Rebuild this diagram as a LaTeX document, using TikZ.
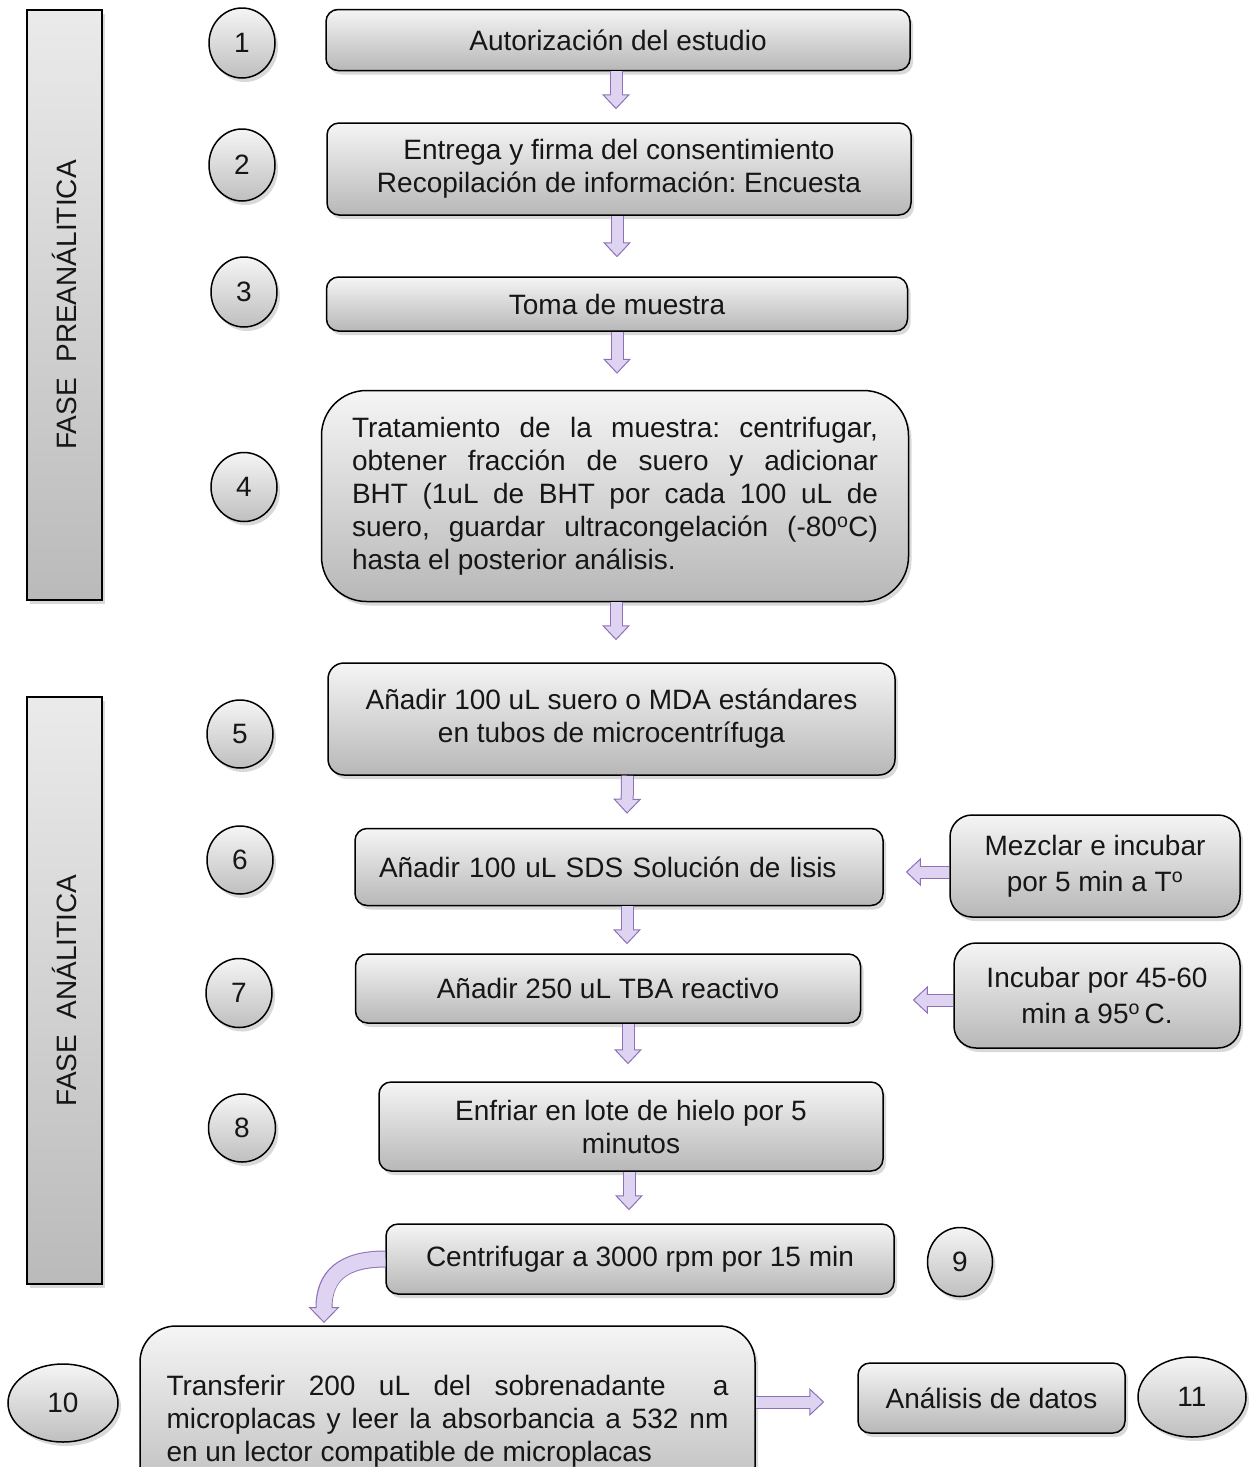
\documentclass[tikz,border=0pt]{standalone}
\usepackage{fontspec}
\setmainfont{Liberation Sans}
\usetikzlibrary{arrows.meta, shapes.geometric, shadows, positioning}

\definecolor{lavfill}{RGB}{222,211,241}
\definecolor{lavedge}{RGB}{140,112,184}
\definecolor{txtgray}{RGB}{22,22,22}
\tolerance=10000 \hbadness=10000 \hyphenpenalty=10000
\frenchspacing

\tikzset{
  sombra/.style={drop shadow={shadow xshift=3pt, shadow yshift=-4pt, opacity=0.3}},
  caja/.style={draw=black, line width=1.5pt, rounded corners=12pt, top color=black!4, bottom color=black!28,
    sombra, font=\fontsize{28}{33}\selectfont, align=center, inner sep=0pt, text=txtgray},
  paso/.style={ellipse, draw=black, line width=1.5pt, top color=black!4, bottom color=black!25,
    sombra, minimum width=66pt, minimum height=69pt, inner sep=0pt, font=\fontsize{28}{33}\selectfont, text=txtgray},
  fase/.style={draw=black, line width=1.5pt, top color=black!8, bottom color=black!27, sombra,
    minimum width=75pt, inner sep=0pt},
  fasetxt/.style={rotate=90, font=\fontsize{28}{33}\selectfont, text=txtgray},
  fatarrow/.style={draw=lavedge, line width=13pt,
    -{Triangle[width=28pt,length=15pt,line width=1pt,fill=lavfill,color=lavedge]},
    postaction={draw=lavfill, line width=11pt, -, shorten >=13pt}},
  bentarrow/.style={draw=lavedge, line width=17pt,
    -{Triangle[width=31pt,length=16pt,line width=1pt,fill=lavfill,color=lavedge]},
    postaction={draw=lavfill, line width=15pt, -, shorten >=14pt}}
}

\begin{document}
\begin{tikzpicture}[x=1pt, y=-1pt]
    \useasboundingbox (0,0) rectangle (1256,1467);

    % Fases
    \node[fase, minimum height=590pt] (pre) at (64.5,305) {};
    \node[fasetxt] (pretxt) at (pre) {FASE~~PREANÁLITICA};
    \node[fase, minimum height=587pt] (ana) at (64.5,990.5) {};
    \node[fasetxt] (anatxt) at (ana) {FASE~~ANÁLITICA};

    % Pasos del flujo
    \node[caja, minimum width=584pt, minimum height=61pt] (b1) at (618,40) {Autorización del estudio};
    \node[caja, minimum width=584pt, minimum height=92pt] (b2) at (619,169)
        {Entrega y firma del consentimiento\\Recopilación de información: Encuesta};
    \node[caja, minimum width=581pt, minimum height=54pt] (b3) at (617,304) {Toma de muestra};
    \node[caja, minimum width=587pt, minimum height=211pt, rounded corners=45pt,
          text width=526pt, align=justify] (b4) at (615,496)
        {Tratamiento de la muestra: centrifugar,\linebreak
         obtener fracción de suero y adicionar\linebreak
         BHT (1uL de BHT por cada 100 uL de\linebreak
         suero, guardar ultracongelación (-80\textsuperscript{o}C)\linebreak
         hasta el posterior análisis.};
    \node[caja, minimum width=567pt, minimum height=112pt, rounded corners=16pt] (b5) at (611.5,719)
        {Añadir 100 uL suero o MDA estándares\\en tubos de microcentrífuga};
    \node[caja, minimum width=528pt, minimum height=77pt, text width=480pt, align=left] (b6) at (619,867)
        {Añadir 100 uL SDS Solución de lisis};
    \node[caja, minimum width=505pt, minimum height=69pt] (b7) at (608,988.5) {Añadir 250 uL TBA reactivo};
    \node[caja, minimum width=504pt, minimum height=89pt] (b8) at (631,1126.5)
        {Enfriar en lote de hielo por 5\\minutos};
    \node[caja, minimum width=508pt, minimum height=70pt] (b9) at (640,1259)
        {Centrifugar a 3000 rpm por 15 min};
    \node[caja, minimum width=615pt, minimum height=190pt, rounded corners=36pt,
          text width=562pt, align=justify] (b10) at (447.5,1421)
        {Transferir 200 uL del sobrenadante\ \ a\linebreak
         microplacas y leer la absorbancia a 532 nm\linebreak
         en un lector compatible de microplacas};
    \node[caja, minimum width=267pt, minimum height=70pt] (b11) at (991.5,1398) {Análisis de datos};

    % Cajas laterales
    \node[caja, minimum width=290pt, minimum height=102pt, rounded corners=22pt] (s1) at (1095,866)
        {Mezclar e incubar\\[3pt]por 5 min a T\textsuperscript{o}};
    \node[caja, minimum width=286pt, minimum height=105pt, rounded corners=22pt] (s2) at (1097,995.5)
        {Incubar por 45-60\\[3pt]min a 95\textsuperscript{o}\,C.};

    % Numeros
    \node[paso, minimum height=70pt] (c1) at (242,43) {1};
    \node[paso, minimum height=72pt] (c2) at (242,165) {2};
    \node[paso, minimum height=70pt] (c3) at (244,292) {3};
    \node[paso] (c4) at (244,487) {4};
    \node[paso, minimum height=68pt] (c5) at (240,734) {5};
    \node[paso, minimum height=68pt] (c6) at (240,860) {6};
    \node[paso] (c7) at (239,993) {7};
    \node[paso, minimum width=67pt, minimum height=68pt] (c8) at (242,1128) {8};
    \node[paso, minimum width=65pt] (c9) at (960,1262) {9};
    \node[paso, minimum width=110pt, minimum height=78pt] (c10) at (63,1403) {10};
    \node[paso, minimum width=108pt, minimum height=80pt] (c11) at (1192,1397) {11};

    % Flechas verticales
    \draw[fatarrow] ([xshift=-2pt]b1.south) -- ([xshift=-3pt,yshift=13pt]b2.north);
    \draw[fatarrow] ([xshift=-2pt]b2.south) -- ([yshift=19pt]b3.north);
    \draw[fatarrow] (b3.south) -- ([xshift=2pt,yshift=16pt]b4.north);
    \draw[fatarrow] ([xshift=1pt]b4.south) -- ([xshift=4.5pt,yshift=22pt]b5.north);
    \draw[fatarrow] ([xshift=16pt]b5.south) -- ([xshift=8pt,yshift=14pt]b6.north);
    \draw[fatarrow] ([xshift=8pt]b6.south) -- ([xshift=19pt,yshift=9pt]b7.north);
    \draw[fatarrow] ([xshift=20pt]b7.south) -- ([xshift=-3pt,yshift=17pt]b8.north);
    \draw[fatarrow] ([xshift=-2pt]b8.south) -- ([xshift=-11pt,yshift=13pt]b9.north);

    % Flechas laterales
    \draw[fatarrow] ([yshift=-6pt]s1.west) -- ([xshift=22pt,yshift=-5pt]b6.east);
    \draw[fatarrow] ([yshift=-4.5pt]s2.west) -- ([xshift=51.5pt,yshift=-11.5pt]b7.east);
    \draw[fatarrow] ([yshift=19pt]b10.east) -- ([xshift=-33pt,yshift=-4pt]b11.west);

    % Flecha curva
    \coordinate (b10in) at (324,1323);
    \draw[bentarrow] (b9.west) .. controls (343,1259) and (324,1276) .. (b10in);
\end{tikzpicture}
\end{document}
